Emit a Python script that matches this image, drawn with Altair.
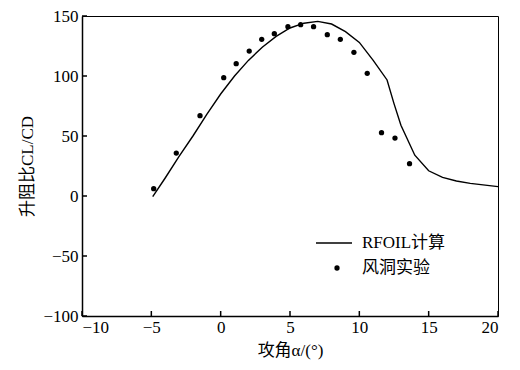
import altair as alt
import pandas as pd

# RFOIL computed curve
line_x = [-4.9, -4, -3, -2, -1, 0, 1, 2, 3, 4, 5, 6, 7, 8, 9, 10, 11, 12, 12.5, 13, 14, 15, 16, 17, 18, 20]
line_y = [-0.6, 15, 33, 50, 68, 85, 100, 113, 124, 133, 140, 144, 145.5, 143.3, 137, 128, 113, 96.7, 77, 59, 34, 21, 15.5, 12.5, 10.5, 7.8]

# Wind tunnel experiment
exp_x = [-4.83, -3.2, -1.49, 0.22, 1.12, 2.06, 2.96, 3.87, 4.85, 5.77, 6.7, 7.69, 8.63, 9.61, 10.57, 11.6, 12.57, 13.62]
exp_y = [6.1, 35.8, 66.9, 98.6, 110.3, 120.8, 130.6, 135.3, 141.1, 142.8, 141.1, 134.4, 130.6, 119.7, 102.2, 52.8, 48.3, 26.9]

series = ["RFOIL计算", "风洞实验"]
x_ticks = [-10, -5, 0, 5, 10, 15, 20]
y_ticks = [-100, -50, 0, 50, 100, 150]

FONT = "Liberation Serif, Times New Roman, Noto Sans CJK SC"

X0, X1 = -10, 20
Y0, Y1 = -100, 150
W, H = 416, 300
TICK = 5  # px, inward

df_line = pd.DataFrame({"a": line_x, "v": line_y})
df_exp = pd.DataFrame({"a": exp_x, "v": exp_y})
df_xt = pd.DataFrame({"t": x_ticks})
df_yt = pd.DataFrame({"t": y_ticks})

xs = alt.Scale(domain=[X0, X1], nice=False, zero=False)
ys = alt.Scale(domain=[Y0, Y1], nice=False, zero=False)

xax = alt.Axis(values=x_ticks, ticks=False, grid=False, labelPadding=3,
               title="攻角α/(°)", titlePadding=7, domainColor="black", domainWidth=1.5)
yax = alt.Axis(values=y_ticks, ticks=False, grid=False, labelPadding=4,
               title="升阻比CL/CD", titlePadding=6, domainColor="black", domainWidth=1.5)

line = alt.Chart(df_line).mark_line(color="black", strokeWidth=1.4).encode(
    x=alt.X("a:Q", scale=xs, axis=xax),
    y=alt.Y("v:Q", scale=ys, axis=yax),
)

pts = alt.Chart(df_exp).mark_point(filled=True, color="black", opacity=1, size=28).encode(
    x=alt.X("a:Q", scale=xs),
    y=alt.Y("v:Q", scale=ys),
)

xt = alt.Chart(df_xt).mark_rule(color="black", strokeWidth=1.5).encode(
    x=alt.X("t:Q", scale=xs), y=alt.value(H), y2=alt.value(H - TICK))
yt = alt.Chart(df_yt).mark_rule(color="black", strokeWidth=1.5).encode(
    y=alt.Y("t:Q", scale=ys), x=alt.value(0), x2=alt.value(TICK))

# legend (manual, inside plot, lower right)
df_leg1 = pd.DataFrame({"s": [series[0]]})
df_leg2 = pd.DataFrame({"s": [series[1]]})
leg_line = alt.Chart(df_leg1).mark_rule(color="black", strokeWidth=1.4).encode(
    x=alt.value(234), x2=alt.value(270), y=alt.value(227))
leg_t1 = alt.Chart(df_leg1).mark_text(align="left", baseline="middle", font=FONT,
                                      fontSize=17, color="black").encode(
    x=alt.value(280), y=alt.value(227), text="s:N")
leg_dot = alt.Chart(df_leg2).mark_point(filled=True, color="black", opacity=1, size=28).encode(
    x=alt.value(255), y=alt.value(252))
leg_t2 = alt.Chart(df_leg2).mark_text(align="left", baseline="middle", font=FONT,
                                      fontSize=17, color="black").encode(
    x=alt.value(280), y=alt.value(252), text="s:N")

chart = alt.layer(line, pts, xt, yt, leg_line, leg_t1, leg_dot, leg_t2).properties(
    width=W, height=H,
    background="white",
    autosize=alt.AutoSizeParams(type="none"),
    padding={"left": 74, "top": 8, "right": 14, "bottom": 46},
).configure_view(stroke="black", strokeWidth=1).configure_axis(
    labelFont=FONT, labelFontSize=17, labelColor="black",
    titleFont=FONT, titleFontSize=17, titleColor="black", titleFontWeight="normal",
)

chart.save("out.html", embed_options={"renderer": "svg", "actions": False})
